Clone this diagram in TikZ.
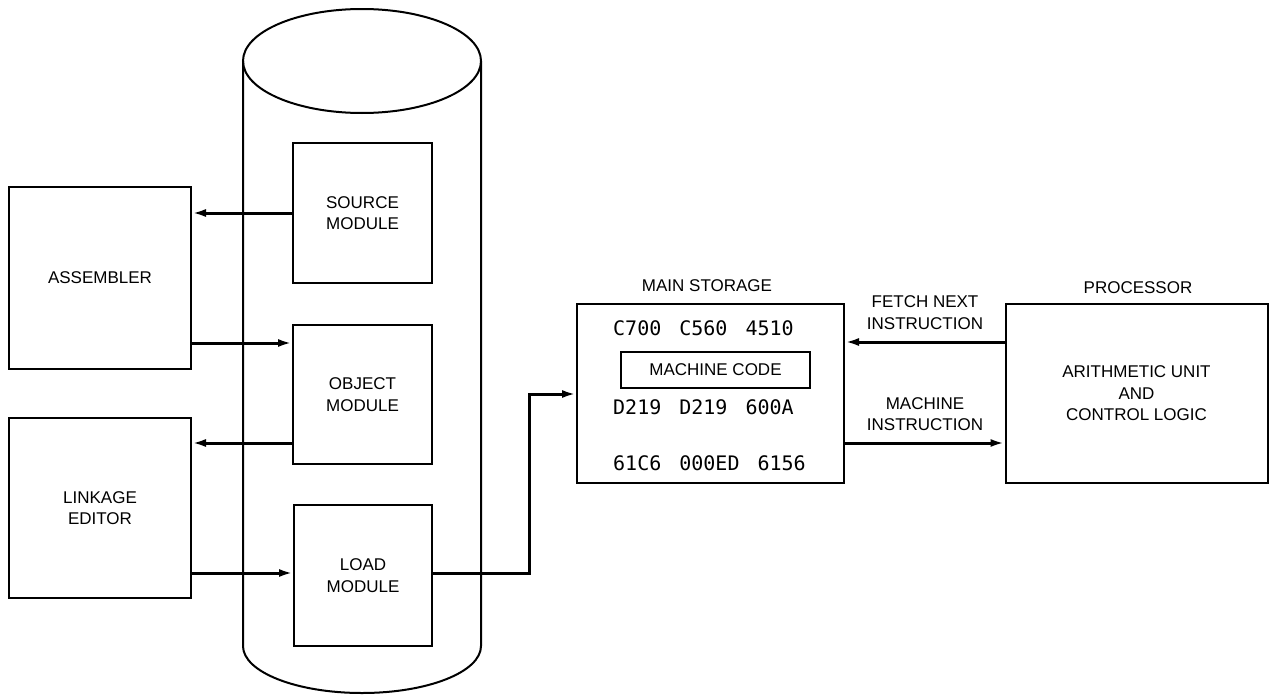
\documentclass[tikz,border=0pt]{standalone}
\usepackage{fontspec}
\setmainfont{Liberation Sans}
\newfontfamily\codefont{DejaVu Sans Mono}
\usetikzlibrary{arrows.meta,calc}
\newcommand\codegap{\hspace{18pt}}

\begin{document}
\begin{tikzpicture}[x=1pt,y=1pt,
  every node/.style={font=\fontsize{17}{21.5}\selectfont},
  box/.style={draw,line width=2pt,inner sep=0pt,align=center},
  lbl/.style={align=center,inner sep=0pt},
  codetxt/.style={anchor=base west,inner sep=0pt,font=\codefont\fontsize{20}{22}\selectfont},
  arr/.style={line width=3pt,-{Latex[length=14pt,width=8pt]}},
  drum/.style={line width=2pt}]

\useasboundingbox (0,0) rectangle (1270,-696);

% storage drum
\draw[drum] (362,-61) ellipse[x radius=119,y radius=52];
\draw[drum] (243,-61) -- (243,-646)
  arc[start angle=180,end angle=360,x radius=119,y radius=47] -- (481,-61);

% program modules held on the drum
\node[box,minimum width=139,minimum height=140] (src)  at (362.5,-213)   {SOURCE\\MODULE};
\node[box,minimum width=139,minimum height=139] (obj)  at (362.5,-394.5) {OBJECT\\MODULE};
\node[box,minimum width=138,minimum height=141] (load) at (363,-575.5)   {LOAD\\MODULE};

% translating programs
\node[box,minimum width=182,minimum height=182] (asm)  at (100,-278) {ASSEMBLER};
\node[box,minimum width=182,minimum height=180] (link) at (100,-508) {LINKAGE\\EDITOR};

% main storage
\node[box,minimum width=267,minimum height=179] (mem) at (710.5,-393.5) {};
\node[lbl] (memlbl) at (707,-286) {MAIN STORAGE};
\node[codetxt] (row1) at (613,-335) {C700\codegap C560\codegap 4510};
\node[box,minimum width=189,minimum height=36] (mc) at (715.5,-370) {MACHINE CODE};
\node[codetxt] (row2) at (613,-414) {D219\codegap D219\codegap 600A};
\node[codetxt] (row3) at (613,-470) {61C6\codegap 000ED\codegap 6156};

% processor
\node[box,minimum width=262,minimum height=179] (proc) at (1136.5,-393.5)
  {ARITHMETIC UNIT\\AND\\CONTROL LOGIC};
\node[lbl] (proclbl) at (1138,-288) {PROCESSOR};

\node[lbl] (fetchlbl) at (925,-312.5) {FETCH NEXT\\INSTRUCTION};
\node[lbl] (instlbl)  at (925,-414)   {MACHINE\\INSTRUCTION};

% data flow
\draw[arr] (src.west) -- (asm.east |- src.west);
\draw[arr] (asm.east |- 0,-343) -- (obj.west |- 0,-343);
\draw[arr] (obj.west |- 0,-443) -- (link.east |- 0,-443);
\draw[arr] (link.east |- 0,-573) -- (load.west |- 0,-573);
\coordinate (turnlow) at (529,-573);
\coordinate (turnhigh) at (529,-394);
\draw[arr] (load.east |- turnlow) -- (turnlow) -- (turnhigh) -- (mem.west |- turnhigh);
\draw[arr] (proc.west |- 0,-342) -- (mem.east |- 0,-342);
\draw[arr] (mem.east |- 0,-443) -- (proc.west |- 0,-443);

\end{tikzpicture}
\end{document}
